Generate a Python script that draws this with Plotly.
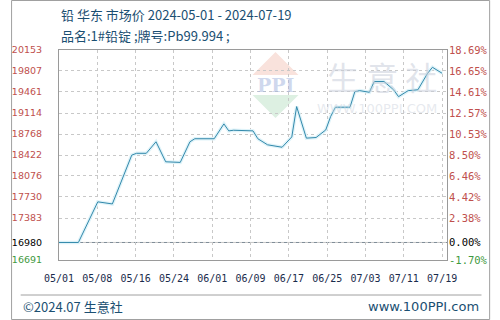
import plotly.graph_objects as go
import pandas as pd

# ---- data ----
dates = ["2024-05-01", "2024-05-05", "2024-05-09", "2024-05-12", "2024-05-16", "2024-05-17",
         "2024-05-19", "2024-05-21", "2024-05-23", "2024-05-26", "2024-05-28", "2024-05-29",
         "2024-06-02", "2024-06-04", "2024-06-05", "2024-06-06", "2024-06-10", "2024-06-11",
         "2024-06-13", "2024-06-16", "2024-06-18", "2024-06-19", "2024-06-21", "2024-06-23",
         "2024-06-25", "2024-06-26", "2024-06-27", "2024-06-30", "2024-07-01", "2024-07-02",
         "2024-07-04", "2024-07-05", "2024-07-07", "2024-07-09", "2024-07-10", "2024-07-12",
         "2024-07-14", "2024-07-16", "2024-07-17", "2024-07-19"]
prices = [16980, 16980, 17650, 17615, 18420, 18450,
          18450, 18640, 18310, 18300, 18640, 18690,
          18690, 18935, 18820, 18830, 18820, 18690,
          18590, 18550, 18720, 19220, 18700, 18710,
          18835, 19055, 19210, 19210, 19466, 19483,
          19456, 19634, 19634, 19497, 19384, 19483,
          19497, 19769, 19868, 19769]

base_price = 16980
y_ticks = [16691, 16980, 17383, 17730, 18076, 18422, 18768, 19114, 19461, 19807, 20153]
pct_labels = ["-1.70%", "0.00%", "2.38%", "4.42%", "6.46%", "8.50%", "10.53%",
              "12.57%", "14.61%", "16.65%", "18.69%"]
x_labels = ["05/01", "05/08", "05/16", "05/24", "06/01", "06/09", "06/17",
            "06/25", "07/03", "07/11", "07/19"]

RED = "#c0504d"
GREEN = "#3f9a3f"
TXT = "#1b4f72"

start = pd.Timestamp("2024-05-01")
tick_dates = [(start + pd.Timedelta(days=7.9 * k)).strftime("%Y-%m-%d %H:%M:%S")
              for k in range(len(x_labels))]
x_end = (start + pd.Timedelta(days=80)).strftime("%Y-%m-%d %H:%M:%S")


def colored(v, txt):
    if v == base_price:
        c = "#000000"
    elif v < base_price:
        c = GREEN
    else:
        c = RED
    return f'<span style="color:{c}">{txt}</span>'


left_text = [colored(v, str(v)) for v in y_ticks]
right_text = [colored(v, t) for v, t in zip(y_ticks, pct_labels)]

W, H = 500, 320
L, R, T, B = 50, 455, 50, 260


def px(x):
    return (x - L) / (R - L)


def py(y):
    return (B - y) / (B - T)


fig = go.Figure()
fig.add_trace(go.Scatter(x=dates, y=prices, mode="lines",
                         line=dict(color="#dff3f9", width=3.5), hoverinfo="skip",
                         showlegend=False))
fig.add_trace(go.Scatter(x=dates, y=prices, mode="lines",
                         line=dict(color="#3389ab", width=1), showlegend=False))
fig.add_trace(go.Scatter(x=dates, y=prices, mode="lines", yaxis="y2",
                         line=dict(width=0), opacity=0, hoverinfo="skip",
                         showlegend=False))

yr = [y_ticks[0], y_ticks[-1]]
fig.update_layout(
    width=W, height=H,
    margin=dict(l=L, r=W - R, t=T, b=H - B),
    paper_bgcolor="white", plot_bgcolor="white",
    font=dict(family="DejaVu Sans", size=10),
    xaxis=dict(type="date", range=["2024-05-01", x_end], tickmode="array",
               tickvals=tick_dates, ticktext=x_labels, showgrid=True,
               gridcolor="#c8c8c8", griddash="dot", gridwidth=1,
               showline=True, linecolor="#9a9a9a", mirror=True, zeroline=False,
               ticks="", ticklabelstandoff=9,
               tickfont=dict(family="DejaVu Sans Mono", size=10, color="#1a2b4c")),
    yaxis=dict(range=yr, tickmode="array", tickvals=y_ticks, ticktext=left_text,
               showgrid=True, gridcolor="#c8c8c8", griddash="dot", gridwidth=1,
               showline=True, linecolor="#9a9a9a", mirror=True, zeroline=False,
               ticks="", ticklabelstandoff=14,
               tickfont=dict(family="DejaVu Sans", size=9.5)),
    yaxis2=dict(range=yr, overlaying="y", side="right", tickmode="array",
                tickvals=y_ticks, ticktext=right_text, showgrid=False,
                zeroline=False, showline=False, ticks="", ticklabelstandoff=1,
                tickfont=dict(family="DejaVu Sans Mono", size=10.5)),
)

# baseline at the base price
fig.add_shape(type="line", xref="paper", yref="y", x0=0, x1=1, y0=base_price,
              y1=base_price, line=dict(color="#7d8a96", width=1), layer="between")

# watermark logo
fig.add_shape(type="path", xref="paper", yref="paper", layer="between",
              path=f"M {px(252)},{py(75)} L {px(276)},{py(52)} L {px(300)},{py(75)} Z",
              fillcolor="rgba(242,190,178,0.45)", line=dict(width=0))
fig.add_shape(type="path", xref="paper", yref="paper", layer="between",
              path=f"M {px(252)},{py(95)} L {px(300)},{py(95)} L {px(276)},{py(118)} Z",
              fillcolor="rgba(180,222,190,0.45)", line=dict(width=0))


def note(x, y, text, font, xanchor="center"):
    fig.add_annotation(x=px(x), y=py(y), xref="paper", yref="paper", text=text,
                       showarrow=False, xanchor=xanchor, yanchor="middle", font=font)


note(276, 85, "<b>PPI</b>", dict(family="DejaVu Serif", size=19,
                                 color="rgba(160,178,220,0.5)"))
note(387, 76, "生 意 社", dict(family="Noto Sans CJK SC", size=32,
                              color="rgba(200,206,218,0.55)"))
note(382, 108, "WWW.100PPI.COM", dict(family="DejaVu Sans", size=13,
                                      color="rgba(210,215,225,0.55)"))

# titles
note(50, 15, "铅 华东 市场价 2024-05-01 - 2024-07-19",
     dict(family="Noto Sans CJK SC", size=13, color=TXT), "left")
note(50, 35, "品名:1#铅锭 ;牌号:Pb99.994 ;",
     dict(family="Noto Sans CJK SC", size=13, color=TXT), "left")

# footer
fig.add_shape(type="line", xref="paper", yref="paper", x0=px(10), x1=px(491),
              y0=py(295), y1=py(295), line=dict(color="#a0a0a0", width=1))
note(10, 306, "©2024.07 生意社", dict(family="Noto Sans CJK SC", size=13, color=TXT), "left")
note(490, 306, "www.100PPI.com", dict(family="DejaVu Sans", size=13, color=TXT), "right")

# outer frame
fig.add_shape(type="rect", xref="paper", yref="paper", x0=px(0.5), x1=px(499.5),
              y0=py(0.5), y1=py(319.5), line=dict(color="#a0a0a0", width=1))

fig.write_html("out.html")
